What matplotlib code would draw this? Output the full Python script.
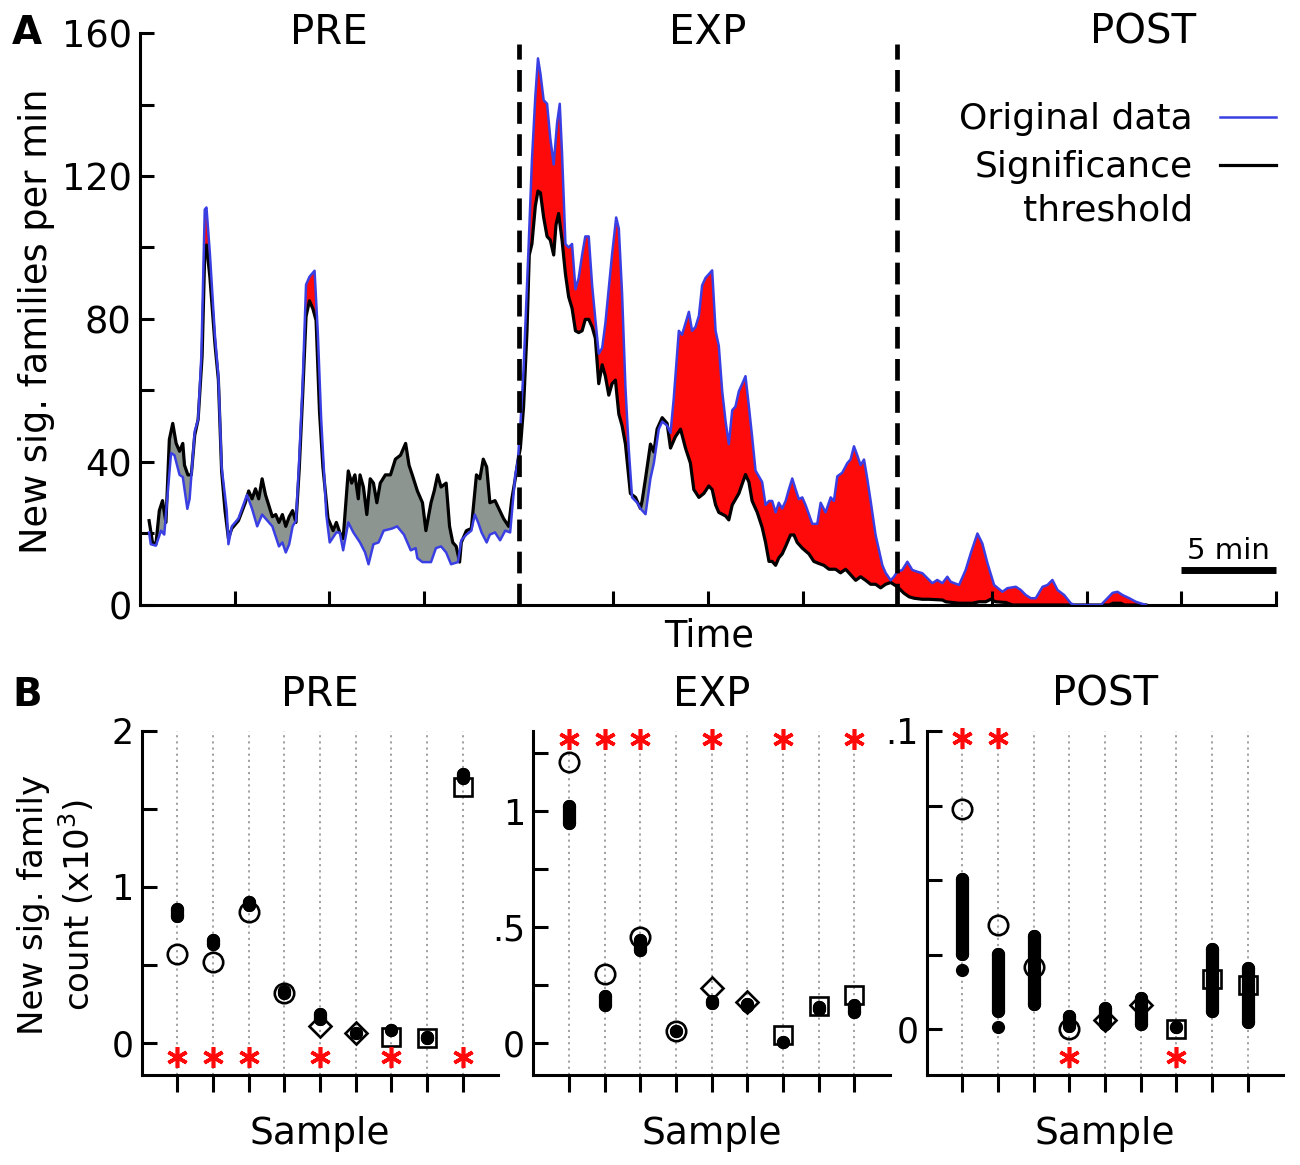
import numpy as np
import matplotlib
matplotlib.use("Agg")
import matplotlib.pyplot as plt

plt.rcParams['font.family'] = ['DejaVu Sans']
plt.rcParams['mathtext.fontset'] = 'dejavusans'

# ------------------------------------------------------------------
# Panel A data: new significant families per minute (time in minutes)
# ------------------------------------------------------------------
orig_t = [0.48, 0.57, 0.84, 1.11, 1.28, 1.64, 1.82, 2.09, 2.26, 2.50, 2.62, 2.89, 3.07, 3.24, 3.42,
          3.51, 3.69, 3.96, 4.14, 4.31, 4.58, 4.67, 4.85, 5.20, 5.65, 5.92, 6.19, 6.45, 6.63, 6.99,
          7.34, 7.52, 7.70, 7.88, 8.06, 8.24, 8.41, 8.59, 8.77, 8.95, 9.22, 9.39, 9.57, 9.84, 10.02,
          10.37, 10.55, 10.73, 11.00, 11.27, 11.62, 11.89, 12.07, 12.33, 12.60, 12.87, 13.32, 13.58,
          13.94, 14.30, 14.56, 14.65, 14.92, 15.37, 15.63, 15.90, 16.17, 16.43, 16.79, 16.97, 17.24,
          17.50, 17.68, 17.86, 18.04, 18.31, 18.48, 18.75, 19.02, 19.29, 19.55, 19.82, 19.95,
          20.09, 20.26, 20.53, 20.70, 20.88, 21.02, 21.15, 21.32, 21.50, 21.67, 21.85, 22.03, 22.17,
          22.29, 22.47, 22.64, 22.82, 23.00, 23.17, 23.35, 23.52, 23.70, 23.88, 24.05, 24.23, 24.41,
          24.58, 24.93, 25.15, 25.29, 25.46, 25.64, 25.81, 25.99, 26.26, 26.43, 26.70, 26.96, 27.14,
          27.40, 27.58, 27.84, 28.02, 28.19, 28.46, 28.63, 28.81, 28.99, 29.16, 29.34, 29.52, 29.69,
          29.87, 30.22, 30.40, 30.57, 30.75, 30.93, 31.10, 31.28, 31.45, 31.63, 31.81, 31.98, 32.16,
          32.33, 32.51, 32.86, 33.04, 33.22, 33.39, 33.57, 33.74, 33.92, 34.10, 34.27, 34.45, 34.63,
          34.80, 34.98, 35.15, 35.51, 35.77, 35.95, 36.21, 36.48, 36.65, 36.83, 37.09, 37.36, 37.53,
          37.71, 37.89, 38.06, 38.24, 38.41, 38.59, 38.85, 39.03, 39.21, 39.38, 39.65, 39.82,
          40.00, 40.26, 40.53, 40.79, 41.06, 41.32, 41.85, 42.11, 42.38, 42.64, 42.82, 43.26, 43.61,
          43.88, 44.23, 44.49, 44.76, 45.11, 45.55, 45.81, 46.26, 46.52, 46.78, 47.05, 47.31, 47.67,
          47.93, 48.19, 48.46, 48.81, 49.16, 49.34, 50.75, 51.01, 51.37, 51.63, 51.89, 52.25, 52.60,
          53.13]
orig_v = [20.3, 17.0, 16.6, 20.8, 19.7, 42.5, 41.9, 36.4, 35.8, 26.9, 29.7, 48.6, 51.9, 69.6, 110.6,
          111.2, 98.4, 75.2, 64.1, 38.6, 26.4, 17.0, 22.0, 24.2, 30.8, 26.9, 22.0, 25.3, 24.2, 22.0,
          16.4, 17.5, 14.7, 17.0, 22.0, 23.6, 40.8, 61.9, 89.6, 91.8, 93.5, 76.3, 51.9, 25.3, 17.5,
          20.3, 20.3, 15.3, 23.1, 20.3, 17.5, 14.7, 11.4, 17.0, 17.5, 20.8, 21.4, 22.0,
          19.7, 15.3, 15.9, 13.1, 12.0, 12.0, 15.9, 16.4, 14.7, 11.4, 12.0, 18.1, 19.7,
          20.8, 25.3, 23.1, 20.3, 17.5, 19.7, 20.3, 18.1, 20.8, 20.3, 36.4, 40.0,
          50.2, 66.1, 101.0, 124.3, 142.3, 152.9, 148.6, 141.2, 140.2, 130.6, 123.2, 134.9, 140.2,
          126.4, 101.0, 100.0, 101.0, 88.3, 91.5, 97.9, 103.1, 103.1, 89.4, 79.9, 70.3, 71.9,
          78.8, 97.9, 108.4, 105.3, 87.3, 60.8, 43.9, 30.1, 28.6, 27.0, 25.4, 35.4, 39.7,
          49.2, 51.3, 50.2, 48.1, 57.7, 76.7, 75.6, 78.8, 82.0, 76.7, 77.8, 80.9, 89.4,
          91.5, 93.6, 76.7, 72.5, 59.8, 51.3, 45.0, 54.5, 55.5, 59.8, 61.9, 64.0, 55.5,
          47.1, 37.6, 34.4, 28.0, 29.1, 29.1, 25.9, 28.6, 27.0, 29.1, 32.3, 35.4, 32.3,
          29.6, 30.1, 28.0, 22.7, 22.7, 28.6, 25.9, 30.1, 29.1, 36.0, 37.0, 39.7, 40.7,
          44.4, 41.8, 39.1, 40.7, 35.4, 29.1, 19.6, 15.3, 11.1, 9.0, 6.9, 7.9,
          9.3, 9.8, 12.1, 9.8, 9.3, 8.9, 6.1, 7.0, 6.1, 7.9, 6.5, 5.6, 9.8,
          14.5, 20.0, 17.2, 11.7, 5.6, 3.7, 4.7, 5.1, 4.2, 2.8, 1.9, 1.9, 5.1,
          5.6, 7.0, 4.2, 2.8, 0.5, 0.0, 0.0, 1.4, 3.4, 3.7, 2.8, 1.9, 0.9,
          0.0]

thr_t = [0.48, 0.66, 0.84, 1.02, 1.19, 1.37, 1.55, 1.73, 1.91, 2.09, 2.26, 2.35, 2.53, 2.71, 2.89,
         3.07, 3.28, 3.42, 3.51, 3.69, 3.96, 4.14, 4.31, 4.49, 4.67, 4.85, 5.20, 5.56, 5.74, 5.92,
         6.10, 6.27, 6.45, 6.63, 6.99, 7.17, 7.34, 7.52, 7.70, 7.88, 8.06, 8.24, 8.41, 8.59, 8.77,
         8.95, 9.13, 9.30, 9.48, 9.66, 9.93, 10.20, 10.37, 10.55, 10.73, 11.00, 11.18, 11.35, 11.53,
         11.62, 11.80, 11.98, 12.16, 12.33, 12.51, 12.69, 12.96, 13.23, 13.49, 13.76, 14.03, 14.21,
         14.38, 14.65, 14.92, 15.10, 15.37, 15.54, 15.72, 15.90, 16.17, 16.35, 16.52, 16.70, 16.88,
         16.97, 17.24, 17.50, 17.77, 17.95, 18.13, 18.31, 18.48, 18.75, 19.20, 19.47, 19.64, 19.82,
         19.95,
         20.09, 20.26, 20.44, 20.56, 20.70, 20.88, 21.02, 21.15, 21.32, 21.50, 21.67, 21.85, 21.97,
         22.11, 22.29, 22.47, 22.64, 22.82, 23.00, 23.17, 23.35, 23.52, 23.70, 23.88, 24.05, 24.23,
         24.41, 24.58, 24.76, 24.93, 25.11, 25.29, 25.46, 25.64, 25.90, 26.17, 26.43, 26.52, 26.70,
         26.96, 27.14, 27.31, 27.58, 27.84, 28.02, 28.28, 28.55, 28.81, 29.07, 29.25, 29.52, 29.78,
         30.04, 30.22, 30.40, 30.57, 30.93, 31.10, 31.28, 31.63, 31.98, 32.16, 32.33, 32.60, 32.86,
         33.04, 33.22, 33.39, 33.57, 33.74, 33.92, 34.10, 34.36, 34.54, 34.71, 34.98, 35.33, 35.59,
         35.86, 36.12, 36.39, 36.74, 37.00, 37.27, 37.53, 37.80, 38.06, 38.33, 38.59, 38.85, 39.12,
         39.38, 39.65,
         40.00, 40.35, 40.62, 40.88, 41.32, 41.67, 42.38, 42.56, 42.91, 43.26, 43.96, 44.32, 44.67,
         44.93, 45.20, 45.73, 46.08, 49.34, 50.75, 51.20, 51.40, 51.80, 52.00, 53.13]
thr_v = [23.6, 17.5, 17.0, 26.4, 29.2, 23.1, 46.3, 50.8, 45.2, 43.0, 45.2, 39.1, 36.4, 36.4, 47.5,
         51.9, 69.6, 98.4, 100.7, 91.8, 72.9, 63.0, 37.5, 26.4, 18.6, 21.4, 23.6, 28.6, 31.9, 29.7,
         32.5, 29.7, 35.3, 30.8, 24.7, 25.3, 23.1, 25.3, 22.0, 24.7, 26.4, 23.1, 38.0, 58.5, 80.7,
         85.1, 82.9, 79.6, 54.1, 38.6, 24.2, 20.8, 23.1, 20.3, 18.6, 37.5, 34.1, 36.4, 29.7,
         36.4, 33.0, 25.3, 35.3, 34.1, 28.6, 34.1, 36.4, 36.4, 40.8, 41.9, 45.2, 39.1,
         36.4, 31.9, 28.6, 20.8, 28.6, 31.9, 36.4, 33.0, 34.1, 22.0, 17.5, 16.4, 12.0,
         17.5, 20.8, 21.4, 36.4, 35.3, 40.8, 38.6, 28.6, 29.2, 24.2, 22.0, 29.7, 35.3,
         40.0,
         43.9, 55.5, 76.7, 97.9, 101.0, 111.6, 115.8, 115.3, 108.4, 103.1, 102.1, 97.9, 106.3,
         109.5, 102.1, 92.6, 86.2, 83.0, 76.7, 76.2, 76.7, 79.9, 79.9, 77.8, 74.6, 61.9,
         67.2, 64.0, 58.7, 61.9, 62.9, 53.4, 50.2, 45.0, 31.2, 30.1, 27.0, 29.1, 35.4,
         45.0, 42.8, 49.2, 52.4, 50.8, 43.9, 47.1, 49.2, 43.9, 39.7, 32.3, 30.1, 31.2,
         33.3, 32.3, 28.0, 25.9, 24.9, 23.8, 28.0, 31.2, 36.5, 34.4, 29.1, 25.9, 21.7,
         17.5, 12.2, 12.2, 11.1, 13.2, 14.3, 16.4, 19.6, 19.6, 17.5, 15.9, 14.3, 12.2,
         11.6, 11.1, 10.0, 10.0, 9.0, 10.0, 8.5, 6.9, 7.9, 6.9, 5.8, 5.8, 4.8,
         5.8, 6.3,
         5.1, 3.3, 2.3, 1.9, 1.6, 1.6, 1.4, 0.9, 0.7, 0.5, 0.5, 0.9, 0.9,
         1.6, 0.9, 0.7, 0.0, 0.0, 0.0, 0.0, 0.5, 0.5, 0.0, 0.0]

phase_names = ["PRE", "EXP", "POST"]
phase_label_t = [10, 30, 53]
phase_bounds = [20, 40]
a_xticks = [5, 10, 15, 25, 30, 35, 45, 50, 55, 60]
a_yticks = [0, 40, 80, 120, 160]
a_yminor = [20, 60, 100, 140]

# ------------------------------------------------------------------
# Panel B data: new sig. family count (x10^3) per sample
# ------------------------------------------------------------------
samples = [1, 2, 3, 4, 5, 6, 7, 8, 9]
sample_markers = ['o', 'o', 'o', 'o', 'D', 'D', 's', 's', 's']

pre_obs = [0.57, 0.52, 0.84, 0.32, 0.11, 0.06, 0.04, 0.03, 1.64]
pre_null_lo = [0.81, 0.636, 0.885, 0.32, 0.15, 0.06, 0.08, 0.03, 1.70]
pre_null_hi = [0.855, 0.66, 0.90, 0.33, 0.185, 0.065, 0.08, 0.035, 1.725]
pre_star_x = [1, 2, 3, 5, 7, 9]
pre_star_y = [-0.09, -0.09, -0.09, -0.09, -0.09, -0.09]

exp_obs = [1.21, 0.296, 0.455, 0.048, 0.235, 0.177, 0.033, 0.156, 0.206]
exp_null_lo = [0.95, 0.162, 0.40, 0.05, 0.17, 0.16, 0.004, 0.145, 0.134]
exp_null_hi = [1.02, 0.20, 0.445, 0.05, 0.18, 0.165, 0.004, 0.155, 0.164]
exp_star_x = [1, 2, 3, 5, 7, 9]
exp_star_y = [1.31, 1.31, 1.31, 1.31, 1.31, 1.31]

post_obs = [0.0737, 0.035, 0.021, 0.0, 0.003, 0.008, 0.0, 0.0168, 0.0149]
post_null_lo = [0.0252, 0.0062, 0.0085, 0.0012, 0.0018, 0.0018, 0.0009, 0.0062, 0.0023]
post_null_hi = [0.0503, 0.0251, 0.0313, 0.0045, 0.0072, 0.0106, 0.0009, 0.0268, 0.0207]
post_out_x = [1, 2]
post_out_y = [0.0199, 0.0009]
post_star_x = [1, 2, 4, 7]
post_star_y = [0.0975, 0.0975, -0.0092, -0.0092]

# ------------------------------------------------------------------
W, H = 1300, 1165
fig = plt.figure(figsize=(W / 100, H / 100), dpi=100)


def fx(px):
    return px / W


def fy(py):
    return 1 - py / H


BLUE = '#3a3fe3'
RED = '#ff0a0a'
GRAY = '#8d9591'

# ---------------- Panel A ----------------
ax = fig.add_axes([fx(140), fy(605), (1276 - 140) / W, (605 - 33) / H])
ax.set_xlim(0, 60)
ax.set_ylim(0, 160)

ot = np.asarray(orig_t)
ov = np.asarray(orig_v)
tt = np.asarray(thr_t)
tv = np.asarray(thr_v)
grid = np.union1d(ot, tt)
grid = grid[(grid >= max(ot[0], tt[0])) & (grid <= min(ot[-1], tt[-1]))]
o_g = np.interp(grid, ot, ov)
h_g = np.interp(grid, tt, tv)
ax.fill_between(grid, h_g, o_g, where=o_g >= h_g, interpolate=True, color=RED, lw=0, zorder=1)
ax.fill_between(grid, h_g, o_g, where=o_g < h_g, interpolate=True, color=GRAY, lw=0, zorder=1)
ax.plot(ot, ov, color=BLUE, lw=1.8, zorder=3)
ax.plot(tt, tv, color='black', lw=2.3, zorder=2)

for b in phase_bounds:
    ax.plot([b, b], [0, 157], color='black', lw=3.4, dashes=(4.6, 2.2), zorder=4, clip_on=False)

for name, t in zip(phase_names, phase_label_t):
    ax.text(t, 160, name, ha='center', va='center', fontsize=29)

for s in ['top', 'right']:
    ax.spines[s].set_visible(False)
for s in ['left', 'bottom']:
    ax.spines[s].set_linewidth(2.2)
ax.set_xticks(a_xticks)
ax.set_xticklabels([])
ax.set_yticks(a_yticks)
ax.set_yticklabels([str(v) for v in a_yticks])
ax.set_yticks(a_yminor, minor=True)
ax.tick_params(axis='both', which='both', direction='in', width=2.2, length=10)
ax.tick_params(axis='y', which='major', labelsize=26.5, pad=6)

# legend (manual)
ax.plot([57.05, 60], [136.5, 136.5], color=BLUE, lw=1.8, clip_on=False)
ax.plot([57.05, 60], [123.1, 123.1], color='black', lw=2.3, clip_on=False)
ax.text(55.6, 133.2, "Original data", ha='right', va='baseline', fontsize=26)
ax.text(55.6, 119.7, "Significance", ha='right', va='baseline', fontsize=26)
ax.text(55.6, 107.5, "threshold", ha='right', va='baseline', fontsize=26)

# scale bar
ax.plot([55, 60], [9.8, 9.8], color='black', lw=5, solid_capstyle='butt', clip_on=False)
ax.text(57.5, 13.0, "5 min", ha='center', va='baseline', fontsize=21)

fig.text(fx(709), fy(636), "Time", ha='center', va='center', fontsize=26.5)
fig.text(fx(37), fy(321), "New sig. families per min", rotation=90,
         ha='center', va='center', fontsize=26.5)
fig.text(fx(12), fy(33), "A", ha='left', va='center', fontsize=28, fontweight='bold')
fig.text(fx(12), fy(695), "B", ha='left', va='center', fontsize=28, fontweight='bold')


# ---------------- Panel B ----------------
def panel_b(left_px, ylim, major, major_labels, minor, title, obs, lo, hi,
            star_x, star_y, out_x=None, out_y=None):
    axb = fig.add_axes([fx(left_px), fy(1075), 356.5 / W, (1075 - 731) / H])
    axb.set_xlim(0, 10)
    axb.set_ylim(*ylim)
    for xs in samples:
        axb.plot([xs, xs], [ylim[0], ylim[1]], color='#9a9a9a', lw=1.3,
                 dashes=(1.2, 2.2), zorder=1)
    for xs, l, h in zip(samples, lo, hi):
        axb.plot([xs, xs], [l, h], color='black', lw=9.5, marker='o', ms=9.5, mew=0,
                 solid_capstyle='round', zorder=3)
    if out_x is not None:
        axb.plot(out_x, out_y, 'o', color='black', ms=9.5, mew=0, zorder=3, lw=0)
    for xs, v, m in zip(samples, obs, sample_markers):
        ms = 14 if m == 'o' else (11 if m == 'D' else 13.5)
        axb.plot([xs], [v], marker=m, ms=ms, mfc='none', mec='black', mew=1.9, zorder=4)
    axb.plot(star_x, star_y, ls='none', marker=(6, 2, 0), ms=15, mec=RED, mew=2.6,
             color=RED, zorder=5, clip_on=False)
    for s in ['top', 'right']:
        axb.spines[s].set_visible(False)
    for s in ['left', 'bottom']:
        axb.spines[s].set_linewidth(2.2)
    axb.set_xticks(samples)
    axb.set_xticklabels([])
    axb.tick_params(axis='x', direction='out', width=2.2, length=12)
    axb.set_yticks(major)
    axb.set_yticklabels(major_labels)
    axb.set_yticks(minor, minor=True)
    axb.tick_params(axis='y', which='both', direction='in', width=2.2, length=11)
    axb.tick_params(axis='y', which='major', labelsize=25, pad=6)
    trans = matplotlib.transforms.blended_transform_factory(axb.transData, fig.transFigure)
    axb.text(5, fy(695), title, transform=trans, ha='center', va='center', fontsize=29)
    axb.set_xlabel("Sample", fontsize=27, labelpad=14)
    return axb


panel_b(141.7, (-0.207, 2.0), [0, 1, 2], ["0", "1", "2"], [0.5, 1.5], "PRE",
        pre_obs, pre_null_lo, pre_null_hi, pre_star_x, pre_star_y)
panel_b(533.3, (-0.14, 1.346), [0, 0.5, 1], ["0", ".5", "1"], [0.25, 0.75, 1.25], "EXP",
        exp_obs, exp_null_lo, exp_null_hi, exp_star_x, exp_star_y)
panel_b(926.7, (-0.0153, 0.1), [0, 0.1], ["0", ".1"], [0.025, 0.05, 0.075], "POST",
        post_obs, post_null_lo, post_null_hi, post_star_x, post_star_y, post_out_x, post_out_y)

fig.text(fx(57), fy(905), "New sig. family\ncount (x10$^3$)", rotation=90,
         ha='center', va='center', fontsize=24.5, linespacing=1.2)

fig.savefig("out.png", dpi=100)
